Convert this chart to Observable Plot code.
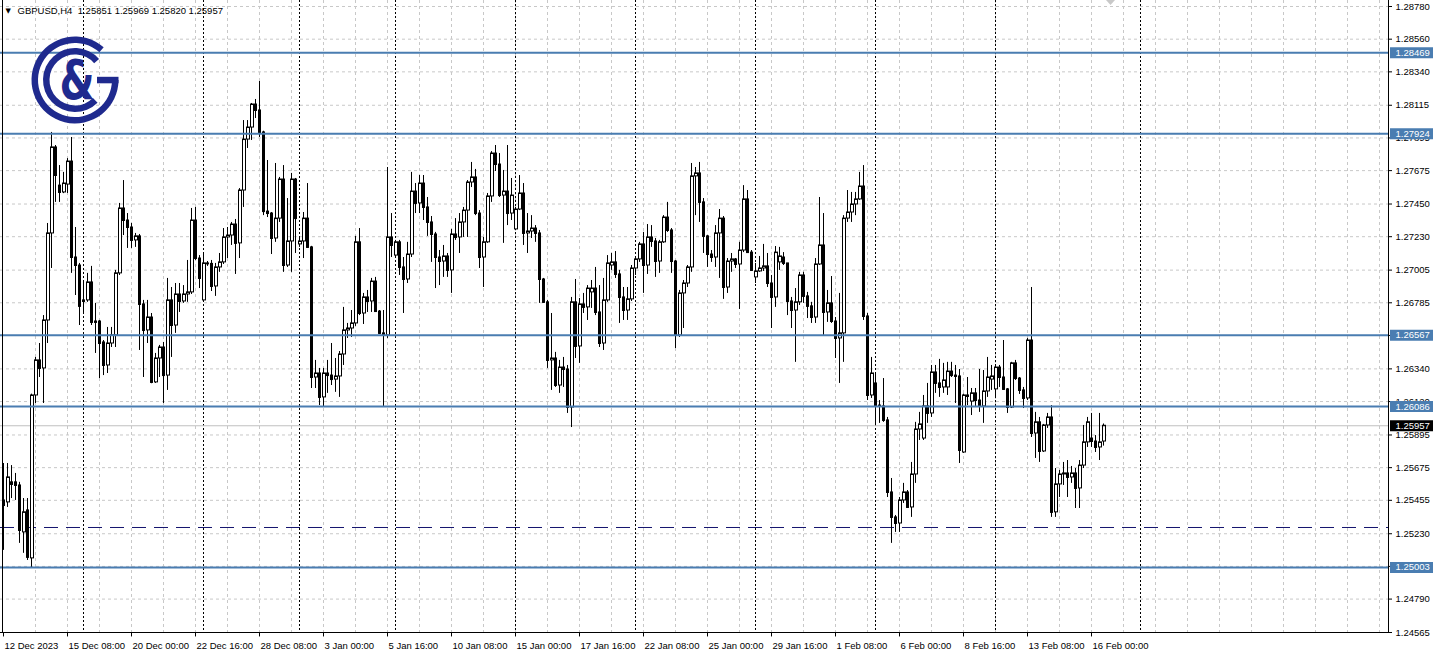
<!DOCTYPE html>
<html><head><meta charset="utf-8">
<script src="https://cdn.jsdelivr.net/npm/d3@7"></script>
<script src="https://cdn.jsdelivr.net/npm/@observablehq/plot@0.6"></script>
<style>
html,body{margin:0;padding:0;background:#fff;overflow:hidden}
svg{display:block}
</style></head><body><div id="chart"></div>
<script>
// ---- DATA (GBPUSD H4, 12 Dec 2023 16:00 → 16 Feb 2024 12:00) ----
const opens = [1.25454,1.25441,1.25576,1.25576,1.25555,1.25239,1.25387,1.25064,1.26161,1.26397,
1.26343,1.26666,1.27252,1.27831,1.27574,1.27528,1.27581,1.27736,1.27090,1.27036,
1.26801,1.26801,1.26922,1.26659,1.26659,1.26518,1.26363,1.26511,1.26565,1.26983,
1.27420,1.27339,1.27292,1.27205,1.27232,1.26774,1.26599,1.26686,1.26249,1.26410,
1.26484,1.26295,1.26801,1.26632,1.26841,1.26794,1.26841,1.26855,1.27339,1.27083,
1.26801,1.27050,1.27047,1.26895,1.27023,1.27057,1.27225,1.27238,1.27312,1.27185,
1.27541,1.27884,1.27965,1.28120,1.28080,1.27932,1.27399,1.27386,1.27218,1.27352,
1.27615,1.27036,1.27198,1.27615,1.27178,1.27198,1.27352,1.27158,1.26282,1.26309,
1.26148,1.26309,1.26295,1.26268,1.26289,1.26437,1.26599,1.26612,1.26646,1.27192,
1.26713,1.26821,1.26794,1.26928,1.26726,1.26579,1.26565,1.27225,1.27103,1.27192,
1.27023,1.26942,1.27110,1.27534,1.27454,1.27588,1.27427,1.27326,1.27245,1.27090,
1.27063,1.27097,1.27003,1.27245,1.27225,1.27326,1.27406,1.27595,1.27629,1.27386,
1.27090,1.27192,1.27501,1.27790,1.27716,1.27507,1.27534,1.27386,1.27279,1.27413,
1.27521,1.27252,1.27265,1.27285,1.27252,1.26942,1.26788,1.26397,1.26410,1.26228,
1.26349,1.26336,1.26080,1.26788,1.26491,1.26774,1.26754,1.26855,1.26881,1.26720,
1.26511,1.26801,1.27036,1.27057,1.26976,1.26821,1.26733,1.26808,1.27016,1.27077,
1.27178,1.27036,1.27225,1.27198,1.27063,1.27192,1.27359,1.27272,1.27063,1.26565,
1.26848,1.26915,1.27023,1.27636,1.27656,1.27461,1.27232,1.27110,1.27090,1.27252,
1.27352,1.26888,1.27063,1.27077,1.27043,1.27137,1.27481,1.27123,1.26956,1.26996,
1.27016,1.27030,1.26915,1.26821,1.27057,1.27090,1.27050,1.26794,1.26733,1.26788,
1.26969,1.26828,1.26761,1.26686,1.27043,1.27171,1.26720,1.26781,1.26659,1.26545,
1.26579,1.27352,1.27393,1.27447,1.27481,1.27568,1.26693,1.26161,1.26242,1.26093,
1.26087,1.25993,1.25508,1.25340,1.25299,1.25454,1.25508,1.25407,1.25629,1.25932,
1.25871,1.26087,1.26040,1.26316,1.26242,1.26215,1.26215,1.26322,1.26295,1.26289,
1.25777,1.26161,1.26120,1.26175,1.26127,1.26087,1.26188,1.26268,1.26202,1.26349,
1.26282,1.26202,1.26080,1.26377,1.26275,1.26195,1.26141,1.26531,1.25905,1.25980,
1.25784,1.25959,1.26013,1.25374,1.25562,1.25629,1.25636,1.25609,1.25636,1.25535,
1.25689,1.25845,1.25871,1.25851,1.25811,1.25851];

const highs = [1.25703,1.25703,1.25689,1.25636,1.25576,1.25467,1.25467,1.26170,1.26417,1.26511,
1.26699,1.27319,1.27932,1.27844,1.27709,1.27663,1.27756,1.27898,1.27292,1.27050,
1.26935,1.26983,1.27030,1.26781,1.26666,1.26531,1.26619,1.26619,1.27003,1.27454,
1.27608,1.27386,1.27319,1.27252,1.27245,1.26801,1.26801,1.26713,1.26444,1.26498,
1.26518,1.26949,1.26888,1.26915,1.26915,1.26901,1.27070,1.27420,1.27427,1.27103,
1.27117,1.27063,1.27070,1.27050,1.27117,1.27285,1.27292,1.27326,1.27346,1.27554,
1.28012,1.28012,1.28127,1.28154,1.28275,1.27940,1.27743,1.27393,1.27723,1.27629,
1.27709,1.27487,1.27656,1.27622,1.27225,1.27393,1.27588,1.27165,1.26397,1.26343,
1.26343,1.26397,1.26511,1.26410,1.26457,1.26754,1.26646,1.26733,1.27232,1.27285,
1.26848,1.26868,1.26949,1.26956,1.26733,1.26733,1.27696,1.27386,1.27205,1.27205,
1.27090,1.27192,1.27663,1.27588,1.27642,1.27642,1.27494,1.27366,1.27259,1.27137,
1.27171,1.27117,1.27279,1.27352,1.27386,1.27427,1.27608,1.27730,1.27683,1.27406,
1.27225,1.27521,1.27803,1.27844,1.27790,1.27676,1.27844,1.27622,1.27427,1.27642,
1.27588,1.27386,1.27372,1.27305,1.27272,1.26949,1.26801,1.26713,1.26451,1.26397,
1.26417,1.26363,1.26821,1.26942,1.26814,1.26848,1.26901,1.26935,1.27023,1.26901,
1.26949,1.27103,1.27117,1.27130,1.27003,1.26888,1.26888,1.27036,1.27083,1.27192,
1.27259,1.27312,1.27305,1.27218,1.27205,1.27372,1.27461,1.27285,1.27070,1.26868,
1.26935,1.27036,1.27723,1.27696,1.27730,1.27487,1.27238,1.27137,1.27305,1.27413,
1.27366,1.27083,1.27117,1.27083,1.27192,1.27574,1.27541,1.27137,1.27050,1.27097,
1.27178,1.27117,1.26969,1.27164,1.27158,1.27123,1.27050,1.26821,1.26881,1.26990,
1.26990,1.26855,1.26788,1.27083,1.27494,1.27386,1.26868,1.26962,1.26686,1.26848,
1.27372,1.27541,1.27528,1.27528,1.27663,1.27709,1.26713,1.26417,1.26309,1.26127,
1.26275,1.26013,1.25602,1.25353,1.25474,1.25569,1.25521,1.25710,1.25980,1.26047,
1.26161,1.26242,1.26363,1.26363,1.26404,1.26377,1.26384,1.26384,1.26363,1.26336,
1.26170,1.26282,1.26208,1.26208,1.26336,1.26329,1.26417,1.26363,1.26356,1.26363,
1.26531,1.26208,1.26384,1.26397,1.26282,1.26215,1.26545,1.26888,1.26047,1.26013,
1.25966,1.26040,1.26093,1.25669,1.25656,1.25710,1.25723,1.25683,1.25669,1.25723,
1.25959,1.26013,1.26040,1.25891,1.26040,1.25969];

const lows = [1.25118,1.25407,1.25467,1.25454,1.25165,1.25098,1.25050,1.24996,1.26107,1.26282,
1.26107,1.26511,1.27016,1.27461,1.27461,1.27520,1.27521,1.26983,1.26834,1.26632,
1.26713,1.26788,1.26632,1.26444,1.26275,1.26295,1.26309,1.26484,1.26484,1.26969,
1.27238,1.27151,1.27151,1.27158,1.26464,1.26282,1.26511,1.26240,1.26242,1.26282,
1.26107,1.26195,1.26417,1.26579,1.26720,1.26781,1.26788,1.26841,1.27070,1.26881,
1.26788,1.27030,1.26861,1.26828,1.26990,1.27043,1.27083,1.27171,1.26976,1.27083,
1.27427,1.27824,1.27878,1.28026,1.27898,1.27372,1.27359,1.27110,1.27192,1.27326,
1.26990,1.27023,1.26990,1.27117,1.27158,1.27083,1.27151,1.26208,1.26208,1.26093,
1.26080,1.26175,1.26228,1.26182,1.26148,1.26363,1.26545,1.26552,1.26626,1.26699,
1.26639,1.26720,1.26720,1.26720,1.26572,1.26087,1.26545,1.27090,1.27090,1.26969,
1.26713,1.26915,1.27090,1.27386,1.27386,1.27339,1.27232,1.27057,1.26881,1.26901,
1.26956,1.26956,1.26848,1.27205,1.27117,1.27225,1.27225,1.27561,1.27372,1.27016,
1.26888,1.27185,1.27461,1.27669,1.27494,1.27185,1.27305,1.27339,1.27272,1.27406,
1.27171,1.27117,1.27218,1.27192,1.26781,1.26781,1.26343,1.26195,1.26215,1.26175,
1.26215,1.26040,1.25945,1.26410,1.26377,1.26713,1.26666,1.26747,1.26699,1.26484,
1.26464,1.26788,1.27003,1.26949,1.26646,1.26666,1.26666,1.26794,1.26969,1.27057,
1.26848,1.26976,1.27158,1.26956,1.26983,1.27185,1.27259,1.26983,1.26477,1.26552,
1.26612,1.26888,1.26990,1.27372,1.27326,1.27117,1.27023,1.27057,1.27023,1.26949,
1.26808,1.26848,1.26990,1.27016,1.26740,1.27123,1.27117,1.26996,1.26915,1.26990,
1.26996,1.26888,1.26612,1.26754,1.27003,1.27036,1.26699,1.26612,1.26384,1.26767,
1.26781,1.26679,1.26646,1.26646,1.27036,1.26565,1.26653,1.26646,1.26410,1.26242,
1.26384,1.27326,1.27326,1.27372,1.27474,1.26666,1.26127,1.26141,1.25959,1.25973,
1.25980,1.25474,1.25165,1.25239,1.25239,1.25434,1.25400,1.25340,1.25569,1.25858,
1.25858,1.25973,1.26013,1.26175,1.26148,1.26175,1.26161,1.26282,1.26107,1.25703,
1.25771,1.26093,1.26026,1.26087,1.26047,1.25973,1.26148,1.26195,1.26148,1.26215,
1.26195,1.26040,1.26073,1.26262,1.26168,1.26073,1.26127,1.25878,1.25737,1.25710,
1.25777,1.25939,1.25340,1.25340,1.25474,1.25555,1.25474,1.25569,1.25400,1.25400,
1.25669,1.25811,1.25811,1.25777,1.25723,1.25820];

const closes = [1.25420,1.25609,1.25562,1.25555,1.25252,1.25374,1.25071,1.26161,1.26397,1.26343,
1.26666,1.27252,1.27831,1.27642,1.27528,1.27588,1.27736,1.27090,1.27036,1.26761,
1.26794,1.26922,1.26653,1.26653,1.26511,1.26363,1.26511,1.26565,1.26983,1.27420,
1.27339,1.27292,1.27205,1.27232,1.26774,1.26599,1.26686,1.26249,1.26410,1.26484,
1.26295,1.26801,1.26632,1.26841,1.26794,1.26841,1.26855,1.27339,1.27083,1.26949,
1.27050,1.27047,1.26895,1.27023,1.27057,1.27225,1.27238,1.27312,1.27185,1.27541,
1.27884,1.27965,1.28120,1.28080,1.27932,1.27399,1.27386,1.27218,1.27352,1.27615,
1.27036,1.27198,1.27615,1.27352,1.27198,1.27352,1.27158,1.26282,1.26309,1.26148,
1.26309,1.26295,1.26268,1.26289,1.26437,1.26599,1.26612,1.26646,1.27192,1.26713,
1.26821,1.26794,1.26928,1.26726,1.26579,1.26565,1.27225,1.27171,1.27192,1.27023,
1.26942,1.27110,1.27534,1.27454,1.27588,1.27427,1.27326,1.27245,1.27090,1.27063,
1.27097,1.27003,1.27245,1.27225,1.27326,1.27406,1.27595,1.27629,1.27386,1.27090,
1.27192,1.27501,1.27790,1.27716,1.27507,1.27534,1.27386,1.27507,1.27413,1.27521,
1.27252,1.27265,1.27285,1.27252,1.26942,1.26788,1.26397,1.26410,1.26228,1.26349,
1.26336,1.26080,1.26788,1.26491,1.26774,1.26754,1.26881,1.26881,1.26720,1.26511,
1.26801,1.27050,1.27057,1.26976,1.26821,1.26733,1.26808,1.27016,1.27077,1.27178,
1.27036,1.27225,1.27198,1.27063,1.27192,1.27359,1.27272,1.27063,1.26565,1.26848,
1.26915,1.27023,1.27636,1.27656,1.27461,1.27232,1.27110,1.27090,1.27252,1.27352,
1.26888,1.27063,1.27077,1.27043,1.27137,1.27481,1.27123,1.27003,1.26996,1.27016,
1.27030,1.26915,1.26821,1.27123,1.27097,1.27050,1.26794,1.26733,1.26788,1.26969,
1.26828,1.26761,1.26686,1.27043,1.27171,1.26720,1.26781,1.26659,1.26545,1.26579,
1.27352,1.27393,1.27447,1.27481,1.27568,1.26693,1.26161,1.26309,1.26093,1.26087,
1.25993,1.25508,1.25340,1.25299,1.25454,1.25508,1.25407,1.25629,1.25932,1.25966,
1.26087,1.26040,1.26316,1.26242,1.26215,1.26262,1.26322,1.26295,1.26289,1.25791,
1.26161,1.26154,1.26175,1.26127,1.26087,1.26188,1.26282,1.26289,1.26349,1.26282,
1.26202,1.26080,1.26377,1.26275,1.26195,1.26141,1.26531,1.25905,1.25980,1.25784,
1.25959,1.26013,1.25374,1.25562,1.25629,1.25636,1.25609,1.25636,1.25535,1.25689,
1.25845,1.25980,1.25851,1.25811,1.25845,1.25957];

// time axis labels every 16 H4 bars
const timeLabels = ["12 Dec 2023","15 Dec 08:00","20 Dec 00:00","22 Dec 16:00","28 Dec 08:00","3 Jan 00:00",
  "5 Jan 16:00","10 Jan 08:00","15 Jan 00:00","17 Jan 16:00","22 Jan 08:00","25 Jan 00:00",
  "29 Jan 16:00","1 Feb 08:00","6 Feb 00:00","8 Feb 16:00","13 Feb 08:00","16 Feb 00:00"];
// week starts (period separators), bar index
const weekStarts = [20, 50, 74, 98, 128, 158, 188, 218, 248, 284.25];
// price scale labels
const priceTicks = [1.28780,1.28560,1.28340,1.28115,1.27895,1.27675,1.27450,1.27230,1.27005,1.26785,
  1.26565,1.26340,1.26120,1.25895,1.25675,1.25455,1.25230,1.25010,1.24790,1.24565];
// horizontal support / resistance levels
const levels = [1.28469, 1.27924, 1.26567, 1.26086, 1.25003];
const dashedLevel = [1.25272];
const symbol = "GBPUSD,H4";

// ---- BUILD ----
const candles = opens.map((o, i) => ({i, o, h: highs[i], l: lows[i], c: closes[i], up: closes[i] >= o}));
const bulls = candles.filter(d => d.up);
const bears = candles.filter(d => !d.up);
const last = candles[candles.length - 1];
const timeTicks = timeLabels.map((label, k) => ({i: k * 16, label}));
const gridX = d3.range(8, 346, 8);
const fmt = d3.format(".5f");
const X0 = -0.75, X1 = 346.25;   // bar index domain over the chart width
const YMIN = 1.24565, YMAX = 1.28780;
const blue = "#4a7db1";
const font = "Liberation Sans, Arial, sans-serif";

const chart = Plot.plot({
  width: 1437, height: 658,
  marginLeft: 0, marginRight: 49, marginTop: 0, marginBottom: 26,
  x: {type: "linear", domain: [X0, X1], range: [0, 1388], axis: null},
  y: {type: "linear", domain: [YMIN, YMAX], range: [632, 6], axis: null},
  style: {fontFamily: font, fontSize: "9.5px", background: "white", overflow: "visible"},
  marks: [
    // grid
    Plot.ruleY(priceTicks, {stroke: "#c8c8c8", strokeDasharray: "3,3"}),
    Plot.ruleX(gridX, {stroke: "#c8c8c8", strokeDasharray: "3,3"}),
    // period separators
    Plot.ruleX(weekStarts, {stroke: "black", strokeDasharray: "2,2"}),
    // current price line
    Plot.ruleY([last.c], {stroke: "#c0c0c0"}),
    // dashed level
    Plot.ruleY(dashedLevel, {stroke: "#14146e", strokeDasharray: "14,8"}),
    // candles: wicks
    Plot.ruleX(candles, {x: "i", y1: "l", y2: "h", stroke: "black"}),
    // bodies (bearish filled, bullish hollow)
    Plot.rect(bears, {x1: d => d.i - 0.125, x2: d => d.i + 0.375, y1: "o", y2: "c", fill: "black", stroke: "black"}),
    Plot.rect(bulls, {x1: d => d.i - 0.125, x2: d => d.i + 0.625, y1: "o", y2: "c", fill: "white", stroke: "black"}),
    Plot.ruleY(bears, {x1: d => d.i - 0.25, x2: d => d.i + 0.5, y: "c", stroke: "black"}),
    Plot.ruleY(bulls, {x1: d => d.i - 0.25, x2: d => d.i + 0.75, y: "c", stroke: "black"}),
    // level lines
    Plot.ruleY(levels, {stroke: blue, strokeWidth: 2}),
    // frame
    Plot.ruleX([X0 + 0.5], {stroke: "black"}),
    Plot.ruleX([X1], {stroke: "black"}),
    Plot.ruleY([YMIN], {stroke: "black"}),
    // price axis
    Plot.ruleY(priceTicks, {x1: X1, x2: X1 + 1, stroke: "black"}),
    Plot.text(priceTicks, {x: X1, y: d => d, text: d => fmt(d), dx: 7, textAnchor: "start", fill: "black"}),
    Plot.ruleY(levels, {x1: X1 + 0.5, x2: X1 + 11.25, stroke: blue, strokeWidth: 11}),
    Plot.text(levels, {x: X1, y: d => d, text: d => fmt(d), dx: 7, textAnchor: "start", fill: "white"}),
    Plot.ruleY([last.c], {x1: X1 + 0.5, x2: X1 + 11.25, stroke: "black", strokeWidth: 11}),
    Plot.text([last.c], {x: X1, y: d => d, text: d => fmt(d), dx: 7, textAnchor: "start", fill: "white"}),
    // time axis
    Plot.ruleX(timeTicks, {x: "i", y1: YMIN, y2: YMIN - 0.0003, stroke: "black"}),
    Plot.text(timeTicks, {x: "i", text: "label", frameAnchor: "bottom", dy: 13, dx: 1, textAnchor: "start", lineAnchor: "middle", fill: "black"}),
    // header
    Plot.text([`${symbol}  ${fmt(last.o)} ${fmt(last.h)} ${fmt(last.l)} ${fmt(last.c)}`],
      {frameAnchor: "top-left", dx: 17, dy: 10, lineAnchor: "middle", textAnchor: "start", fill: "black"}),
    Plot.text(["▼"], {frameAnchor: "top-left", dx: 5, dy: 10, lineAnchor: "middle", textAnchor: "start",
      fill: "black", fontFamily: "DejaVu Sans", fontSize: 7})
  ]
});

document.getElementById("chart").appendChild(chart);

// ---- decorations: logo and chart-shift marker ----
const svg = d3.select(chart);
const navy = "#1f2a8e";
const logo = svg.append("g").attr("transform", "translate(75,80)").attr("fill", navy);
const arcGen = d3.arc();
logo.append("path").attr("d", arcGen({innerRadius: 37, outerRadius: 43.5, startAngle: Math.PI / 2, endAngle: 2 * Math.PI + 0.72}));
logo.append("path").attr("d", arcGen({innerRadius: 25.5, outerRadius: 32, startAngle: 2.36, endAngle: 2 * Math.PI + 0.85}));
logo.append("rect").attr("x", 22).attr("y", -3.2).attr("width", 21.5).attr("height", 6.5);
logo.append("text").attr("x", 0).attr("y", 0).attr("transform", "translate(2,0) scale(0.72,1)")
  .attr("text-anchor", "middle").attr("dominant-baseline", "central")
  .attr("font-family", "DejaVu Sans").attr("font-weight", "bold").attr("font-size", 56).text("&");
svg.append("path").attr("d", "M1106,0 L1115,0 L1110.5,5 Z").attr("fill", "#c8c8c8");
</script>
</body></html>
